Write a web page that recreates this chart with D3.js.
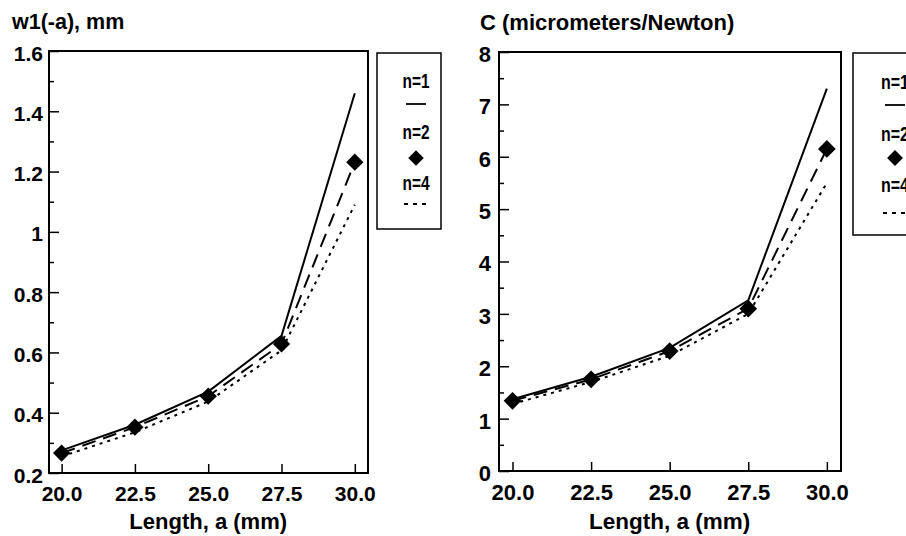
<!DOCTYPE html>
<html lang="en">
<head>
    <meta charset="UTF-8">
    <title>Deflection and Compliance vs Length</title>
    <script src="https://d3js.org/d3.v7.min.js"></script>
    <style>
        body {
            margin: 0;
            padding: 0;
            background: #fff;
        }
        svg {
            font-family: "Liberation Sans", Arial, sans-serif;
            font-weight: bold;
        }
    </style>
</head>
<body>
    <svg width="906" height="536"></svg>

    <script>
        // Shared x values and ticks
        const lengths = [20, 22.5, 25, 27.5, 30];
        const xTicks = [20, 22.5, 25, 27.5, 30];

        // Left panel: w1(-a), mm
        const w1N1 = [0.275, 0.36, 0.47, 0.655, 1.46];
        const w1N2 = [0.266, 0.352, 0.455, 0.628, 1.231];
        const w1N4 = [0.255, 0.335, 0.437, 0.607, 1.09];
        const w1Ticks = [0.2, 0.4, 0.6, 0.8, 1, 1.2, 1.4, 1.6];
        const w1Minor = [0.3, 0.5, 0.7, 0.9, 1.1, 1.3, 1.5];
        const w1Labels = ["0.2", "0.4", "0.6", "0.8", "1", "1.2", "1.4", "1.6"];

        // Right panel: C (micrometers/Newton)
        const cN1 = [1.37, 1.8, 2.35, 3.26, 7.3];
        const cN2 = [1.34, 1.75, 2.29, 3.1, 6.15];
        const cN4 = [1.28, 1.7, 2.2, 3.0, 5.5];
        const cTicks = [0, 1, 2, 3, 4, 5, 6, 7, 8];
        const cMinor = [0.5, 1.5, 2.5, 3.5, 4.5, 5.5, 6.5, 7.5];
        const cLabels = ["0", "1", "2", "3", "4", "5", "6", "7", "8"];

        const legendLabels = ["n=1", "n=2", "n=4"];

        const svg = d3.select("svg");

        function drawPanel(cfg) {
            const g = svg.append("g");

            const x = d3.scaleLinear()
                .domain([19.57, 30.45])
                .range([cfg.left, cfg.right]);
            const y = d3.scaleLinear()
                .domain(cfg.yDomain)
                .range([cfg.bottom, cfg.top]);

            // minor y ticks
            g.append("g")
                .attr("transform", `translate(${cfg.left},0)`)
                .call(d3.axisLeft(y).tickValues(cfg.minor).tickSize(-5).tickFormat(""))
                .call(a => a.select(".domain").remove())
                .selectAll("line").attr("stroke-width", 1.5);

            // major y ticks
            const yAxis = g.append("g")
                .attr("transform", `translate(${cfg.left},0)`)
                .call(d3.axisLeft(y)
                    .tickValues(cfg.ticks)
                    .tickSize(-10)
                    .tickPadding(cfg.yPad)
                    .tickFormat((d, i) => cfg.labels[i]));
            yAxis.select(".domain").remove();
            yAxis.selectAll("line").attr("stroke-width", 1.5);
            yAxis.selectAll("text")
                .attr("dy", "0.43em")
                .attr("fill", "#000")
                .style("font-size", cfg.font + "px")
                .style("font-weight", "bold");

            // x ticks
            const xAxis = g.append("g")
                .attr("transform", `translate(0,${cfg.bottom})`)
                .call(d3.axisBottom(x)
                    .tickValues(xTicks)
                    .tickSize(-9)
                    .tickPadding(13)
                    .tickFormat(d3.format(".1f")));
            xAxis.select(".domain").remove();
            xAxis.selectAll("line").attr("stroke-width", 1.5);
            xAxis.selectAll("text")
                .attr("fill", "#000")
                .style("font-size", cfg.font + "px")
                .style("font-weight", "bold");

            // frame
            g.append("rect")
                .attr("x", cfg.left)
                .attr("y", cfg.top)
                .attr("width", cfg.right - cfg.left)
                .attr("height", cfg.bottom - cfg.top)
                .attr("fill", "none")
                .attr("stroke", "#000")
                .attr("stroke-width", 2);

            const line = d3.line()
                .x((d, i) => x(lengths[i]))
                .y(d => y(d));

            // n=4 dotted
            g.append("path")
                .datum(cfg.n4)
                .attr("d", line)
                .attr("fill", "none")
                .attr("stroke", "#000")
                .attr("stroke-width", 2)
                .attr("stroke-dasharray", "3,5");

            // n=2 dashed with diamonds
            g.append("path")
                .datum(cfg.n2)
                .attr("d", line)
                .attr("fill", "none")
                .attr("stroke", "#000")
                .attr("stroke-width", 2)
                .attr("stroke-dasharray", "14,8");

            // n=1 solid
            g.append("path")
                .datum(cfg.n1)
                .attr("d", line)
                .attr("fill", "none")
                .attr("stroke", "#000")
                .attr("stroke-width", 2);

            const diamond = d3.symbol().type(d3.symbolDiamond2);

            g.selectAll(".dia")
                .data(cfg.n2)
                .join("path")
                .attr("class", "dia")
                .attr("transform", (d, i) => `translate(${x(lengths[i])},${y(d)})`)
                .attr("d", diamond.size(cfg.diaSize))
                .attr("fill", "#000");

            // axis title
            g.append("text")
                .attr("x", x(25))
                .attr("y", 529)
                .attr("text-anchor", "middle")
                .style("font-size", cfg.labelFont + "px")
                .text("Length, a (mm)");

            // y title
            g.append("text")
                .attr("x", cfg.titleX)
                .attr("y", cfg.titleY)
                .style("font-size", cfg.titleFont + "px")
                .text(cfg.title);

            // legend
            const lg = g.append("g");
            lg.append("rect")
                .attr("x", cfg.legend.x)
                .attr("y", cfg.legend.y)
                .attr("width", cfg.legend.w)
                .attr("height", cfg.legend.h)
                .attr("fill", "#fff")
                .attr("stroke", "#000")
                .attr("stroke-width", 1.5);

            const cx = cfg.legend.cx;
            const ly = cfg.legend.rows;
            legendLabels.forEach((t, i) => {
                lg.append("text")
                    .attr("x", cx - cfg.legend.tw / 2)
                    .attr("y", ly[i * 2])
                    .attr("textLength", cfg.legend.tw)
                    .attr("lengthAdjust", "spacingAndGlyphs")
                    .style("font-size", cfg.legend.font + "px")
                    .text(t);
            });
            lg.append("line")
                .attr("x1", cx - 10).attr("x2", cx + 10)
                .attr("y1", ly[1]).attr("y2", ly[1])
                .attr("stroke", "#000")
                .attr("stroke-width", 1.8);
            lg.append("path")
                .attr("transform", `translate(${cx},${ly[3]})`)
                .attr("d", d3.symbol().type(d3.symbolDiamond2).size(cfg.diaSize * 0.8)())
                .attr("fill", "#000");
            lg.append("line")
                .attr("x1", cx - 12).attr("x2", cx + 12)
                .attr("y1", ly[5]).attr("y2", ly[5])
                .attr("stroke", "#000")
                .attr("stroke-width", 1.8)
                .attr("stroke-dasharray", "4,5");
        }

        drawPanel({
            left: 49, right: 368, top: 51, bottom: 473,
            yDomain: [0.2, 1.6],
            ticks: w1Ticks, minor: w1Minor, labels: w1Labels,
            n1: w1N1, n2: w1N2, n4: w1N4,
            font: 21, labelFont: 22, yPad: 6,
            title: "w1(-a), mm", titleX: 12, titleY: 29, titleFont: 21.5,
            diaSize: 190,
            legend: { x: 377, y: 53, w: 64, h: 176, cx: 416, font: 20, tw: 27,
                      rows: [88, 104, 139, 158, 190, 204] }
        });

        drawPanel({
            left: 499, right: 841, top: 52, bottom: 471,
            yDomain: [0, 8],
            ticks: cTicks, minor: cMinor, labels: cLabels,
            n1: cN1, n2: cN2, n4: cN4,
            font: 22, labelFont: 22.5, yPad: 8,
            title: "C (micrometers/Newton)", titleX: 480, titleY: 30, titleFont: 22,
            diaSize: 200,
            legend: { x: 853, y: 53, w: 64, h: 182, cx: 895, font: 20.5, tw: 28,
                      rows: [89, 105, 141, 158, 192, 213] }
        });
    </script>
</body>
</html>
